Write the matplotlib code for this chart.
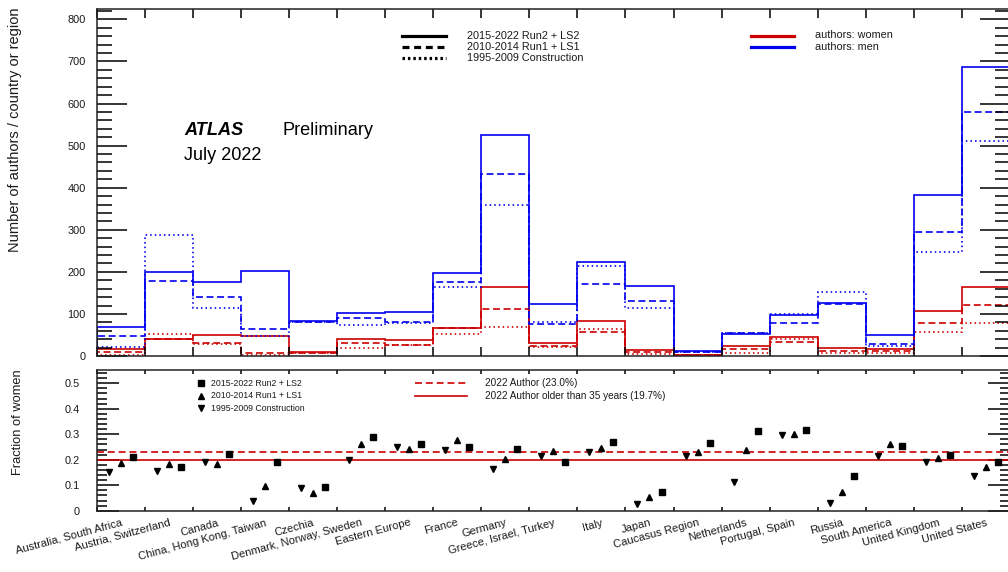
import numpy as np
import matplotlib
matplotlib.use('Agg')
import matplotlib.pyplot as plt
from matplotlib.lines import Line2D
from matplotlib.ticker import MultipleLocator, FuncFormatter

# ---------------- data ----------------
categories = ["Australia, South Africa", "Austria, Switzerland", "Canada",
              "China, Hong Kong, Taiwan", "Czechia", "Denmark, Norway, Sweden",
              "Eastern Europe", "France", "Germany", "Greece, Israel, Turkey",
              "Italy", "Japan", "Caucasus Region", "Netherlands", "Portugal, Spain",
              "Russia", "South America", "United Kingdom", "United States"]

men_run2 = [69, 200, 175, 203, 84, 102, 105, 198, 525, 123, 224, 167, 12, 52, 98, 125, 49, 383, 687]
men_run1 = [47, 178, 140, 63, 81, 90, 81, 177, 433, 75, 172, 131, 10, 55, 79, 123, 29, 294, 580]
men_constr = [21, 287, 113, 47, 80, 74, 79, 165, 359, 81, 214, 115, 9, 55, 99, 151, 24, 248, 511]

women_run2 = [17, 40, 51, 48, 9, 40, 37, 67, 165, 30, 83, 14, 3.5, 23, 45, 19, 16, 107, 164]
women_run1 = [10, 40, 31, 8, 6, 32, 26, 67, 112, 23, 57, 9.5, 3, 16, 34, 11, 12, 78, 122]
women_constr = [3.5, 53, 29, 3, 7, 18, 26, 52, 70, 22, 64, 5, 2.5, 7, 40, 6, 7, 57, 79]

frac_run2 = [0.210, 0.170, 0.221, 0.192, 0.094, 0.291, 0.261, 0.250, 0.241, 0.192,
             0.270, 0.075, 0.266, 0.312, 0.317, 0.137, 0.254, 0.219, 0.191]
frac_run1 = [0.188, 0.185, 0.185, 0.097, 0.068, 0.261, 0.241, 0.276, 0.203, 0.236,
             0.246, 0.055, 0.230, 0.238, 0.301, 0.073, 0.263, 0.208, 0.172]
frac_constr = [0.153, 0.156, 0.192, 0.039, 0.088, 0.198, 0.251, 0.238, 0.164, 0.215,
               0.232, 0.025, 0.216, 0.113, 0.296, 0.031, 0.216, 0.190, 0.135]

frac_all_2022 = 0.230
frac_older35_2022 = 0.197

period_labels = ["2015-2022 Run2 + LS2", "2010-2014 Run1 + LS1", "1995-2009 Construction"]
gender_labels = ["authors: women", "authors: men"]
ref_labels = ["2022 Author (23.0%)", "2022 Author older than 35 years (19.7%)"]

# ---------------- style ----------------
plt.rcParams['font.family'] = ['Liberation Sans', 'DejaVu Sans']
plt.rcParams['lines.scale_dashes'] = False

W, H = 1008, 572
fig = plt.figure(figsize=(W / 100, H / 100), dpi=100)


def fx(px):
    return px / W


def fy(py):
    return 1 - py / H


RED = '#cc0000'
BLUE = '#0000ee'
TXT = '#1a1a1a'
SOLID = '-'
DASH = (0, (5.0, 2.6))
DOT = (0, (1.1, 2.2))
styles = [SOLID, DASH, DOT]

edges = np.arange(len(categories) + 1)
centers = edges[:-1] + 0.5

L, R = 96.7, 1010.0
ax1 = fig.add_axes([fx(L), fy(356), fx(R) - fx(L), (356 - 9.3) / H])
ax2 = fig.add_axes([fx(L), fy(510.7), fx(R) - fx(L), (510.7 - 370) / H])

for ax in (ax1, ax2):
    for s in ax.spines.values():
        s.set_linewidth(1.1)
        s.set_color('#222222')

# ---------------- top panel ----------------
for vals, ls in zip([women_run2, women_run1, women_constr], styles):
    ax1.stairs(vals, edges, baseline=0, color=RED, lw=1.2, ls=ls)
for vals, ls in zip([men_run2, men_run1, men_constr], styles):
    ax1.stairs(vals, edges, baseline=0, color=BLUE, lw=1.2, ls=ls)

ax1.set_xlim(0, len(categories))
ax1.set_ylim(0, 824)
ax1.yaxis.set_major_locator(MultipleLocator(100))
ax1.yaxis.set_minor_locator(MultipleLocator(20))
ax1.tick_params(axis='y', which='major', direction='in', length=21.6, width=1.1,
                left=True, right=True, labelsize=7.9, pad=8.0, labelcolor=TXT)
ax1.tick_params(axis='y', which='minor', direction='in', length=10.8, width=1.1,
                left=True, right=True)
ax1.set_xticks(edges)
ax1.tick_params(axis='x', which='major', direction='in', length=6.5, width=1.1,
                top=True, bottom=True, labelbottom=False)

# ---------------- bottom panel ----------------
ax2.axhline(frac_all_2022, color=RED, lw=1.2, ls=(0, (5.0, 2.8)))
ax2.axhline(frac_older35_2022, color=RED, lw=1.2, ls='-')
ax2.plot(centers - 0.25, frac_constr, ls='none', marker='v', ms=4.2, color='k')
ax2.plot(centers, frac_run1, ls='none', marker='^', ms=4.2, color='k')
ax2.plot(centers + 0.25, frac_run2, ls='none', marker='s', ms=3.8, color='k')

ax2.set_xlim(0, len(categories))
ax2.set_ylim(0, 0.552)
ax2.yaxis.set_major_locator(MultipleLocator(0.1))
ax2.yaxis.set_minor_locator(MultipleLocator(0.02))
ax2.yaxis.set_major_formatter(FuncFormatter(lambda v, p: '0' if abs(v) < 1e-9 else f'{v:.1f}'))
ax2.tick_params(axis='y', which='major', direction='in', length=15.8, width=1.1,
                left=True, right=True, labelsize=7.9, pad=12.0, labelcolor=TXT)
ax2.tick_params(axis='y', which='minor', direction='in', length=7.2, width=1.1,
                left=True, right=True)
ax2.set_xticks(edges)
ax2.tick_params(axis='x', which='major', direction='in', length=3.2, width=1.1,
                top=True, bottom=True, labelbottom=False)
ax2.set_xticks(centers, minor=True)
ax2.set_xticklabels(categories, minor=True, rotation=15, ha='right',
                    rotation_mode='anchor', fontsize=8, color=TXT)
ax2.tick_params(axis='x', which='minor', length=0, pad=5.0)

# ---------------- texts ----------------
fig.text(fx(15.5), fy(7), "Number of authors / country or region", rotation=90,
         ha='center', va='top', fontsize=10.5, color=TXT)
fig.text(fx(18), fy(369), "Fraction of women", rotation=90,
         ha='center', va='top', fontsize=9.3, color=TXT)
fig.text(fx(184), fy(135), "ATLAS", fontsize=13.1, fontweight='bold', style='italic',
         va='baseline', color='k')
fig.text(fx(282.7), fy(135), "Preliminary", fontsize=13.1, va='baseline', color='k')
fig.text(fx(184), fy(159.5), "July 2022", fontsize=13.1, va='baseline', color='k')

# ---------------- legends ----------------
leg_ls = ['-', (0, (5.0, 3.4)), (0, (1.8, 2.1))]
for y, ls, lab in zip([36, 47, 58], leg_ls, period_labels):
    fig.add_artist(Line2D([fx(402), fx(446)], [fy(y), fy(y)], transform=fig.transFigure,
                          color='k', lw=2.3, ls=ls))
    fig.text(fx(467), fy(y), lab, va='center', ha='left', fontsize=7.8, color=TXT)

for y, c, lab in zip([35.5, 47], [RED, BLUE], gender_labels):
    fig.add_artist(Line2D([fx(751), fx(794)], [fy(y), fy(y)], transform=fig.transFigure,
                          color=c, lw=2.3))
    fig.text(fx(815), fy(y), lab, va='center', ha='left', fontsize=7.8, color=TXT)

for y, m, ms, lab in zip([383.3, 396, 408.3], ['s', '^', 'v'], [3.8, 4.2, 4.2], period_labels):
    fig.add_artist(Line2D([fx(201)], [fy(y)], transform=fig.transFigure,
                          color='k', marker=m, ms=ms, ls='none'))
    fig.text(fx(211), fy(y), lab, va='center', ha='left', fontsize=6.3, color=TXT)

for y, ls, lab in zip([383.3, 395.7], [(0, (5.0, 2.8)), '-'], ref_labels):
    fig.add_artist(Line2D([fx(415), fx(467)], [fy(y), fy(y)], transform=fig.transFigure,
                          color=RED, lw=1.2, ls=ls))
    fig.text(fx(485), fy(y), lab, va='center', ha='left', fontsize=7.2, color=TXT)

fig.savefig('out.png', dpi=100)
